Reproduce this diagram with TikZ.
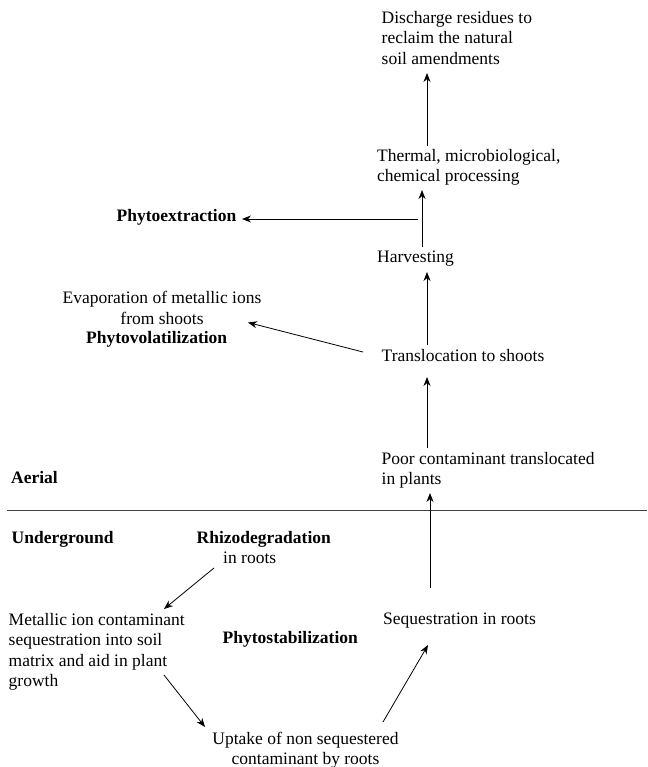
\documentclass[tikz,border=0pt]{standalone}
\usepackage{fontspec}
\setmainfont{Liberation Serif}
\usetikzlibrary{arrows.meta}
\begin{document}
\begin{tikzpicture}[x=1pt,y=-1pt,
  fnt/.style={font=\fontsize{17.5}{20.5}\selectfont},
  txt/.style={fnt, inner sep=0pt, anchor=north west, align=left},
  ctxt/.style={fnt, inner sep=0pt, anchor=north, align=center},
  lbl/.style={fnt, inner sep=0pt, anchor=base west},
  bld/.style={lbl, font=\fontsize{17.5}{20.5}\selectfont\bfseries},
  arr/.style={-{Stealth[length=9pt,width=7pt]}, line width=0.8pt}]
\useasboundingbox (0,0) rectangle (647,767);
% top column
\node[txt] (dis) at (381.5,11) {Discharge residues to\\reclaim the natural\\soil amendments};
\node[txt] (therm) at (377,149) {Thermal, microbiological,\\chemical processing};
\node[bld] (pex) at (116.5,222) {Phytoextraction};
\node[lbl] (harv) at (377,262) {Harvesting};
\node[ctxt] (evap) at (162,291) {Evaporation of metallic ions\\from shoots};
\node[bld] (pvol) at (86,343) {Phytovolatilization};
\node[lbl] (trans) at (381.5,361) {Translocation to shoots};
\node[txt] (poor) at (381.5,452) {Poor contaminant translocated\\in plants};
\node[bld] (aer) at (11,483) {Aerial};
% underground
\node[bld] (und) at (11.5,543) {Underground};
\node[bld] (rhizo) at (196.5,543) {Rhizodegradation};
\node[lbl] (inr) at (223,563) {in roots};
\node[txt] (metal) at (8.5,613) {Metallic ion contaminant\\sequestration into soil\\matrix and aid in plant\\growth};
\node[bld] (pstab) at (222.5,643) {Phytostabilization};
\node[lbl] (seq) at (383,624) {Sequestration in roots};
\node[ctxt] (upt) at (305.5,731.5) {Uptake of non sequestered\\contaminant by roots};
% separator
\coordinate (l1) at (7,510);
\coordinate (l2) at (647,510);
\draw[line width=0.8pt, black!75] (l1) -- (l2);
% connectors
\coordinate (a1s) at (427,146); \coordinate (a1e) at (427,73);
\draw[arr] (a1s) -- (a1e);
\coordinate (a2s) at (422,247); \coordinate (a2e) at (422,190);
\draw[arr] (a2s) -- (a2e);
\coordinate (a3s) at (418,219); \coordinate (a3e) at (242,219);
\draw[arr] (a3s) -- (a3e);
\coordinate (a4s) at (427,345); \coordinate (a4e) at (427,272);
\draw[arr] (a4s) -- (a4e);
\coordinate (a5s) at (363,352); \coordinate (a5e) at (248,322.5);
\draw[arr] (a5s) -- (a5e);
\coordinate (a6s) at (427,448); \coordinate (a6e) at (427,377);
\draw[arr] (a6s) -- (a6e);
\coordinate (a7s) at (430,588); \coordinate (a7e) at (430,493);
\draw[arr] (a7s) -- (a7e);
\coordinate (a8s) at (214,568); \coordinate (a8e) at (164,609);
\draw[arr] (a8s) -- (a8e);
\coordinate (a9s) at (164,675); \coordinate (a9e) at (205,727);
\draw[arr] (a9s) -- (a9e);
\coordinate (a10s) at (383,722); \coordinate (a10e) at (428,645);
\draw[arr] (a10s) -- (a10e);
\end{tikzpicture}
\end{document}
